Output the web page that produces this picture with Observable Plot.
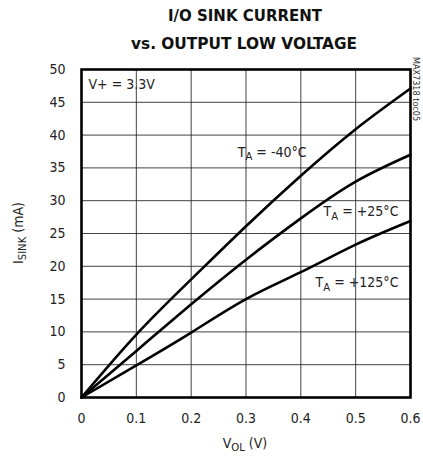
<!DOCTYPE html>
<html>
<head>
<meta charset="utf-8">
<script src="https://cdn.jsdelivr.net/npm/d3@7"></script>
<script src="https://cdn.jsdelivr.net/npm/@observablehq/plot@0.6"></script>
<style>
  html, body { margin: 0; padding: 0; background: #fff; }
  #chart svg { display: block; }
</style>
</head>
<body>
<div id="chart"></div>
<script>
// ---- data ----
const vol = [0, 0.1, 0.2, 0.3, 0.4, 0.5, 0.6];               // V_OL (V)
const sinkM40 = [0, 9.6, 18.0, 26.1, 33.8, 40.9, 47.1];      // T_A = -40°C
const sink25  = [0, 7.1, 14.2, 21.0, 27.3, 32.9, 37.0];      // T_A = +25°C
const sink125 = [0, 4.9, 9.9, 15.0, 19.1, 23.3, 26.9];       // T_A = +125°C
const seriesNames = ["-40", "+25", "+125"];
const xTicks = [0, 0.1, 0.2, 0.3, 0.4, 0.5, 0.6];
const xTickLabels = ["0", "0.1", "0.2", "0.3", "0.4", "0.5", "0.6"];
const yTicks = [0, 5, 10, 15, 20, 25, 30, 35, 40, 45, 50];
// annotation anchors in data units
const leftLabels  = [{t: "T{A} = -40°C", x: 0.285, y: 37.4}];
const rightLabels = [{t: "T{A} = +25°C", x: 0.578, y: 28.3}, {t: "T{A} = +125°C", x: 0.578, y: 17.5}];

const rows = [];
[sinkM40, sink25, sink125].forEach((s, i) =>
  s.forEach((v, j) => rows.push({series: seriesNames[i], x: vol[j], y: v})));

const FONT = "'Liberation Sans Narrow', 'DejaVu Sans Condensed', sans-serif";

const W = 423, H = 462;
const plot = Plot.plot({
  width: W, height: H,
  marginLeft: 81, marginRight: 13, marginTop: 69, marginBottom: 65,
  style: {fontFamily: FONT, fontSize: "14px", color: "#222", background: "#fff"},
  x: {domain: [0, 0.6], label: null},
  y: {domain: [0, 50], label: null},
  marks: [
    Plot.gridX(xTicks, {stroke: "#222", strokeOpacity: 0.85, strokeWidth: 1}),
    Plot.gridY(yTicks, {stroke: "#222", strokeOpacity: 0.85, strokeWidth: 1}),
    Plot.text(["V+ = 3.3V"], {frameAnchor: "top-left", dx: 7, dy: 10, fill: "#222", fontSize: 14, textAnchor: "start"}),
    Plot.line(rows, {x: "x", y: "y", z: "series", stroke: "#000", strokeWidth: 2.6, curve: "natural"}),
    Plot.text(leftLabels, {x: "x", y: "y", text: "t", textAnchor: "start", fill: "#222", fontSize: 14}),
    Plot.text(rightLabels, {x: "x", y: "y", text: "t", textAnchor: "end", fill: "#222", fontSize: 14}),
    Plot.frame({stroke: "#000", strokeWidth: 2.6}),
    Plot.axisX(xTicks, {tickSize: 0, tickPadding: 16, fontSize: 14, tickFormat: (d) => xTickLabels[xTicks.indexOf(d)], label: null}),
    Plot.axisY(yTicks, {tickSize: 0, tickPadding: 16, fontSize: 14, label: null})
  ]
});

document.getElementById("chart").appendChild(plot);
const svg = d3.select(plot);

// subscript markup: "T{A}" -> T with subscript A
function subscriptify(sel) {
  sel.each(function() {
    const el = d3.select(this);
    const txt = el.text();
    if (!txt.includes("{")) return;
    el.selectAll("*").remove();
    el.text(null);
    const parts = txt.split(/(\{[^}]*\})/).filter(p => p.length);
    let sub = false;
    parts.forEach(p => {
      if (p.startsWith("{")) {
        el.append("tspan").attr("dy", "0.3em").attr("font-size", "0.8em").text(p.slice(1, -1));
        sub = true;
      } else {
        el.append("tspan").attr("dy", sub ? "-0.24em" : null).text(p);
        sub = false;
      }
    });
  });
}
svg.selectAll("text").filter(function() { return this.textContent.includes("{"); }).call(subscriptify);

// title
const titleFont = "'DejaVu Sans Condensed', 'Liberation Sans Narrow', sans-serif";
const title = svg.append("g").attr("font-family", titleFont).attr("font-weight", "bold").attr("font-size", 15).attr("fill", "#111").attr("text-anchor", "middle");
title.append("text").attr("x", 245).attr("y", 21).attr("textLength", 154).attr("lengthAdjust", "spacingAndGlyphs").text("I/O SINK CURRENT");
title.append("text").attr("x", 244).attr("y", 49).attr("textLength", 226).attr("lengthAdjust", "spacingAndGlyphs").text("vs. OUTPUT LOW VOLTAGE");

// axis labels
const xl = svg.append("text").attr("x", 245).attr("y", 448).attr("text-anchor", "middle")
  .attr("font-family", FONT).attr("font-size", 14).attr("fill", "#222").text("V{OL} (V)");
subscriptify(xl);
const yl = svg.append("text").attr("transform", "translate(23,233) rotate(-90)").attr("text-anchor", "middle")
  .attr("font-family", FONT).attr("font-size", 14).attr("fill", "#222").text("I{SINK} (mA)");
subscriptify(yl);

// figure id at right
svg.append("text").attr("transform", "translate(413,57) rotate(90)").attr("text-anchor", "start")
  .attr("font-family", FONT).attr("font-size", 9).attr("fill", "#333").text("MAX7318 toc05");
</script>
</body>
</html>
